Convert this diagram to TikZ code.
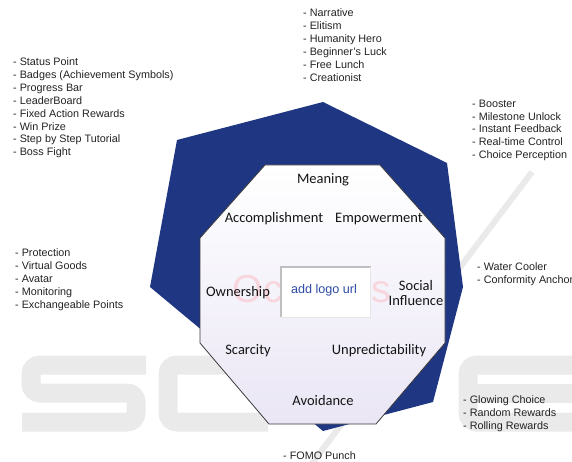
\documentclass[tikz,border=0pt]{standalone}
\usepackage{fontspec}
\setmainfont{Liberation Sans}
\newfontfamily\octfont{Carlito}
\definecolor{navy}{RGB}{31,54,131}
\definecolor{lavender}{RGB}{234,230,245}
\definecolor{octedge}{RGB}{58,58,58}
\definecolor{listgray}{RGB}{34,34,34}
\definecolor{labelgray}{RGB}{20,20,20}
\definecolor{logoblue}{RGB}{45,75,165}
\definecolor{pinkmark}{RGB}{248,214,222}
\definecolor{markgray}{RGB}{234,234,234}
\begin{document}
\begin{tikzpicture}[x=1pt,y=-1pt,
  listtext/.style={anchor=north west, inner sep=0pt, align=left, text=listgray,
    font=\fontsize{10.8}{12.9}\selectfont},
  drive/.style={inner sep=0pt, text=labelgray, align=center,
    font=\octfont\fontsize{14.5}{15.5}\selectfont},
  bigletter/.style={draw=markgray, line width=19pt, rounded corners=9pt, line cap=butt},
]
\useasboundingbox (0,0) rectangle (572,462);

% publisher mark in the background
\draw[bigletter] (146,365) -- (31,365) -- (31,393) -- (136,393) -- (136,422) -- (22,422);
\draw[bigletter] (268,365) -- (168,365) -- (168,422) -- (268,422);
\draw[bigletter] (580,365) -- (468,365) -- (468,422) -- (580,422);
\draw[bigletter] (468,393) -- (572,393);
\draw[markgray, line width=6pt] (310,466) -- (532,172);

% outer heptagon
\fill[navy] (177,140) -- (323,102) -- (447,163) -- (463,287) -- (433,402)
  -- (323,431) -- (150,287) -- cycle;

% inner octagon
\shadedraw[top color=white, bottom color=lavender, draw=octedge, line width=0.8pt]
  (265,165) -- (380,165) -- (445,238) -- (445,343) -- (376,424) -- (269,424)
  -- (200,343) -- (200,238) -- cycle;

% faint brand mark behind the logo box
\node[text=pinkmark, inner sep=0pt, font=\fontsize{39}{39}\selectfont] (brand) at (312,292) {Octalysis};

% logo placeholder
\node[fill=white, minimum width=89pt, minimum height=50pt, inner sep=0pt] (logo) at (326,292) {};
\draw[black!25, line width=1.8pt] (logo.south west) -- (logo.north west) -- (logo.north east);
\draw[black!10, line width=0.5pt] (logo.north east) -- (logo.south east) -- (logo.south west);
\node[text=logoblue, inner sep=0pt, font=\fontsize{12.6}{13}\selectfont] (logotext) at (324,290) {add logo url};

% core drives
\node[drive] (meaning) at (323,180) {Meaning};
\node[drive] (accomp) at (274,219) {Accomplishment};
\node[drive] (empower) at (379,219) {Empowerment};
\node[drive] (owner) at (238,293) {Ownership};
\node[drive] (social) at (416,293) {Social\\Influence};
\node[drive] (scarce) at (248,351) {Scarcity};
\node[drive] (unpred) at (379,351) {Unpredictability};
\node[drive] (avoid) at (323,401) {Avoidance};

% game techniques per drive
\node[listtext] (l-accomp) at (13,57.5) {- Status Point\\- Badges (Achievement Symbols)\\- Progress Bar\\- LeaderBoard\\- Fixed Action Rewards\\- Win Prize\\- Step by Step Tutorial\\- Boss Fight};
\node[listtext] (l-meaning) at (303,8.5) {- Narrative\\- Elitism\\- Humanity Hero\\- Beginner’s Luck\\- Free Lunch\\- Creationist};
\node[listtext] (l-empower) at (472,99.5) {- Booster\\- Milestone Unlock\\- Instant Feedback\\- Real-time Control\\- Choice Perception};
\node[listtext] (l-owner) at (15,248.5) {- Protection\\- Virtual Goods\\- Avatar\\- Monitoring\\- Exchangeable Points};
\node[listtext] (l-social) at (477,262.5) {- Water Cooler\\- Conformity Anchor};
\node[listtext] (l-unpred) at (463,395.5) {- Glowing Choice\\- Random Rewards\\- Rolling Rewards};
\node[listtext] (l-avoid) at (283,451.5) {- FOMO Punch};
\end{tikzpicture}
\end{document}
